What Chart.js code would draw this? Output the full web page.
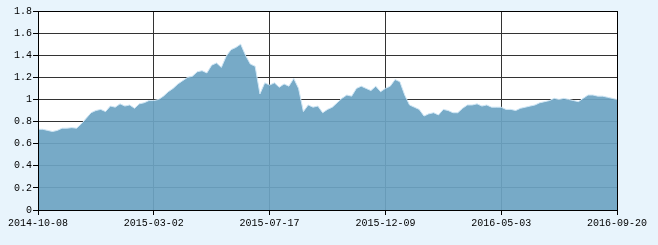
<!DOCTYPE html>
<html>
<head>
<meta charset="utf-8">
<script src="https://cdn.jsdelivr.net/npm/chart.js@4"></script>
<style>
html,body{margin:0;padding:0;background:#e8f4fc;}
#wrap{width:658px;height:245px;}
</style>
</head>
<body>
<div id="wrap"><canvas id="c" width="658" height="245"></canvas></div>
<script>
const xTickLabels = ['2014-10-08','2015-03-02','2015-07-17','2015-12-09','2016-05-03','2016-09-20'];
const yTickLabels = ['0','0.2','0.4','0.6','0.8','1','1.2','1.4','1.6','1.8'];
const values = [
0.73,0.73,0.72,0.71,0.72,0.74,0.74,0.745,0.74,0.78,
0.83,0.88,0.90,0.91,0.89,0.94,0.93,0.96,0.94,0.95,
0.92,0.96,0.97,0.99,0.99,1.00,1.03,1.07,1.10,1.14,
1.17,1.20,1.21,1.25,1.26,1.24,1.31,1.33,1.29,1.39,
1.45,1.47,1.50,1.40,1.32,1.30,1.05,1.15,1.13,1.15,
1.11,1.14,1.12,1.19,1.10,0.89,0.95,0.93,0.94,0.88,
0.91,0.93,0.97,1.01,1.04,1.03,1.10,1.12,1.10,1.08,
1.12,1.07,1.10,1.12,1.18,1.16,1.04,0.95,0.93,0.91,
0.85,0.87,0.88,0.86,0.91,0.90,0.88,0.88,0.92,0.95,
0.95,0.96,0.94,0.95,0.93,0.93,0.93,0.91,0.91,0.90,
0.92,0.93,0.94,0.95,0.97,0.98,0.99,1.01,1.00,1.01,
1.00,0.99,0.98,1.01,1.04,1.04,1.03,1.03,1.02,1.01,
1.00
];
const step = (values.length - 1) / (xTickLabels.length - 1);
const points = values.map((v, i) => ({x: i, y: v}));
const font = {family: "'Liberation Mono', 'DejaVu Sans Mono', monospace", size: 10};

const bgPlugin = {
  id: 'bg',
  beforeDraw(chart) {
    const {ctx, chartArea: a} = chart;
    ctx.save();
    ctx.fillStyle = '#e8f4fc';
    ctx.fillRect(0, 0, chart.width, chart.height);
    ctx.fillStyle = '#ffffff';
    ctx.fillRect(a.left, a.top, a.right - a.left, a.bottom - a.top);
    ctx.restore();
  },
  afterDraw(chart) {
    const {ctx, chartArea: a} = chart;
    ctx.save();
    ctx.strokeStyle = '#000';
    ctx.lineWidth = 1;
    ctx.strokeRect(Math.round(a.left) + 0.5, Math.round(a.top) + 0.5, Math.round(a.right - a.left), Math.round(a.bottom - a.top));
    ctx.restore();
  }
};

new Chart(document.getElementById('c'), {
  type: 'line',
  data: {
    datasets: [{
      data: points,
      fill: 'origin',
      backgroundColor: 'rgba(109,164,195,0.93)',
      borderColor: '#cfe6f5',
      borderWidth: 1,
      pointRadius: 0,
      tension: 0
    }]
  },
  options: {
    responsive: false,
    animation: false,
    layout: {padding: {left: 0, right: 41, top: 11, bottom: 0}},
    plugins: {legend: {display: false}, tooltip: {enabled: false}},
    scales: {
      x: {
        type: 'linear',
        min: 0,
        max: values.length - 1,
        afterFit(s) { s.height = 35; },
        ticks: {
          stepSize: step,
          autoSkip: false,
          maxRotation: 0,
          color: '#000',
          font: font,
          padding: 2,
          callback: (v) => xTickLabels[Math.round(v / step)] ?? ''
        },
        grid: {color: '#333', tickColor: '#000', tickLength: 5, lineWidth: 1},
        border: {color: '#000', width: 1}
      },
      y: {
        min: 0,
        max: 1.8,
        afterFit(s) { s.width = 38; },
        ticks: {
          stepSize: 0.2,
          color: '#000',
          font: font,
          padding: 1,
          callback: (v) => yTickLabels[Math.round(v / 0.2)]
        },
        grid: {color: '#333', tickColor: '#000', tickLength: 5, lineWidth: 1},
        border: {color: '#000', width: 1}
      }
    }
  },
  plugins: [bgPlugin]
});
</script>
</body>
</html>
